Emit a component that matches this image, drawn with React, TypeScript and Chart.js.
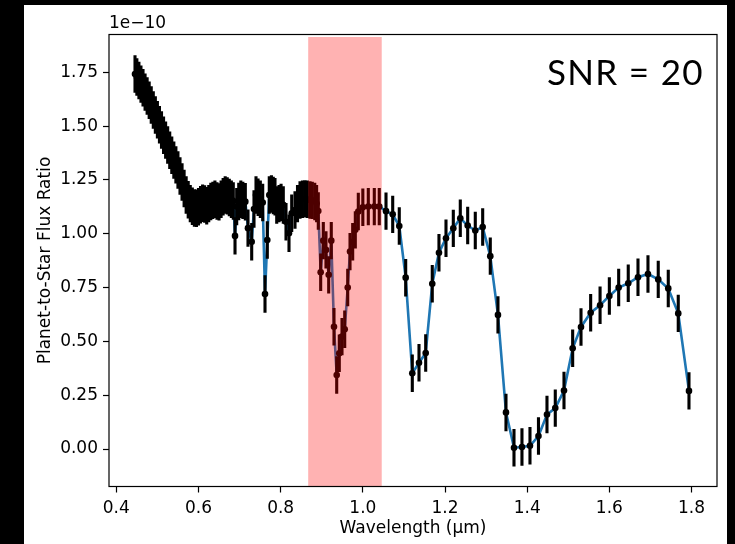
import React, { useEffect, useRef } from "react";
import { Chart, registerables } from "chart.js";

Chart.register(...registerables);

// Wavelength (µm) of each binned spectral point
const wavelength: number[] = [
  0.4455, 0.45, 0.455, 0.46, 0.465, 0.47, 0.475, 0.48, 0.485, 0.49, 0.495, 0.5, 0.505, 0.51,
  0.515, 0.52, 0.525, 0.53, 0.535, 0.54, 0.545, 0.55, 0.555, 0.56, 0.565, 0.57, 0.575,
  0.58, 0.585, 0.59, 0.595, 0.6, 0.605, 0.61, 0.615, 0.62, 0.625, 0.63, 0.635, 0.64, 0.645,
  0.65, 0.655, 0.66, 0.665, 0.67, 0.675, 0.68,
  0.6847, 0.6889, 0.693, 0.698, 0.703, 0.708, 0.714, 0.7205, 0.7295, 0.7351, 0.74, 0.745,
  0.7505, 0.7563, 0.7619, 0.7675, 0.7723, 0.7775, 0.782, 0.7862, 0.7904, 0.796, 0.801,
  0.8064, 0.813, 0.8203, 0.8269, 0.8349, 0.841, 0.8471, 0.853, 0.859, 0.865, 0.8714, 0.877,
  0.883, 0.8875, 0.8916, 0.8974, 0.9038, 0.9103, 0.9169, 0.9232, 0.9298, 0.9364, 0.9427,
  0.9493, 0.9559, 0.9632, 0.9688, 0.9753, 0.9817, 0.989,
  1.0, 1.0133, 1.0279, 1.04, 1.0564, 1.0727, 1.0887, 1.1043, 1.1204, 1.1367, 1.153, 1.169,
  1.1853, 1.2024, 1.2202, 1.2372, 1.2552, 1.2737, 1.2917, 1.3102, 1.3289, 1.3484, 1.3679,
  1.3873, 1.4068, 1.4275, 1.4482, 1.4684, 1.4896, 1.5107, 1.531, 1.5545, 1.5774, 1.6,
  1.6227, 1.646, 1.6697, 1.694, 1.719, 1.7434, 1.7677, 1.7938,
];

// Planet-to-star flux ratio, in units of 1e-10
const fluxRatio: number[] = [
  1.742, 1.728, 1.712, 1.695, 1.678, 1.658, 1.64, 1.62, 1.598, 1.575, 1.552, 1.53, 1.506, 1.482,
  1.458, 1.435, 1.412, 1.388, 1.365, 1.342, 1.32, 1.296, 1.268, 1.24, 1.21, 1.18, 1.158,
  1.14, 1.128, 1.12, 1.118, 1.125, 1.135, 1.142, 1.138, 1.13, 1.14, 1.15, 1.155, 1.16, 1.152,
  1.148, 1.16, 1.172, 1.18, 1.176, 1.168, 1.16,
  1.152, 0.99, 1.126, 1.15, 1.16, 1.155, 1.149, 1.026, 0.963, 1.115, 1.18, 1.17,
  1.16, 1.145, 0.72, 0.971, 1.18, 1.185, 1.178, 1.172, 1.134, 1.14, 1.145,
  1.134, 1.056, 1.002, 1.095, 1.11, 1.14, 1.157, 1.16, 1.162, 1.16, 1.157, 1.155,
  1.15, 1.14, 1.106, 0.821, 0.968, 0.925, 0.809, 0.968, 0.568, 0.344, 0.445,
  0.522, 0.556, 0.75, 0.917, 0.963, 1.018, 1.103,
  1.123, 1.126, 1.126, 1.126, 1.105, 1.09, 1.036, 0.796, 0.352, 0.401, 0.446, 0.768,
  0.912, 0.979, 1.025, 1.072, 1.038, 1.015, 1.031, 0.896, 0.623, 0.17, 0.006,
  0.009, 0.015, 0.06, 0.16, 0.19, 0.272, 0.468, 0.567, 0.633, 0.668, 0.711,
  0.75, 0.77, 0.798, 0.813, 0.788, 0.746, 0.63, 0.27,
];

// 1-sigma uncertainty (SNR = 20), same units
const fluxError = 0.087;

const xTickValues: number[] = [0.4, 0.6, 0.8, 1.0, 1.2, 1.4, 1.6, 1.8];
const yTickValues: number[] = [0, 0.25, 0.5, 0.75, 1.0, 1.25, 1.5, 1.75];

// highlighted band
const bandStart = 0.867;
const bandEnd = 1.046;
const bandTop = 1.914;

const xMin = 0.3822;
const xMax = 1.862;
const yMin = -0.1742;
const yMax = 1.9256;

const snrText = "SNR = 20";
const offsetText = "1e\u221210";

const W = 703;
const H = 539;
const FONT = "'DejaVu Sans', sans-serif";

export default function App() {
  const ref = useRef<HTMLCanvasElement>(null);

  useEffect(() => {
    const canvas = ref.current;
    if (!canvas) return;
    const points = wavelength.map((x, i) => ({ x, y: fluxRatio[i] }));

    const errorBars = {
      id: "errorBars",
      afterDatasetDraw(chart: any, args: any) {
        if (args.index !== 0) return;
        const { ctx, chartArea, scales } = chart;
        ctx.save();
        ctx.beginPath();
        ctx.rect(chartArea.left, chartArea.top, chartArea.right - chartArea.left, chartArea.bottom - chartArea.top);
        ctx.clip();
        ctx.strokeStyle = "#000";
        ctx.lineWidth = 3.1;
        ctx.lineCap = "butt";
        for (let i = 0; i < wavelength.length; i++) {
          const x = scales.x.getPixelForValue(wavelength[i]);
          const y1 = scales.y.getPixelForValue(fluxRatio[i] - fluxError);
          const y2 = scales.y.getPixelForValue(fluxRatio[i] + fluxError);
          ctx.beginPath();
          ctx.moveTo(x, y1);
          ctx.lineTo(x, y2);
          ctx.stroke();
        }
        ctx.restore();
      },
    };

    const overlay = {
      id: "overlay",
      afterDatasetsDraw(chart: any) {
        const { ctx, chartArea, scales } = chart;
        const { left, right, top, bottom } = chartArea;
        ctx.save();
        // shaded band
        const bx1 = scales.x.getPixelForValue(bandStart);
        const bx2 = scales.x.getPixelForValue(bandEnd);
        const by = scales.y.getPixelForValue(bandTop);
        ctx.fillStyle = "rgba(255,0,0,0.3)";
        ctx.fillRect(bx1, by, bx2 - bx1, bottom - by);
        // frame
        ctx.strokeStyle = "#000";
        ctx.lineWidth = 1.2;
        ctx.strokeRect(left, top, right - left, bottom - top);
        // offset text
        ctx.fillStyle = "#000";
        ctx.font = `17px ${FONT}`;
        ctx.textAlign = "left";
        ctx.textBaseline = "middle";
        ctx.fillText(offsetText, left, 18.5);
        // SNR label
        ctx.font = "35px Lato, 'Open Sans', sans-serif";
        ctx.textBaseline = "alphabetic";
        (ctx as any).letterSpacing = "1.3px";
        ctx.fillText(snrText, 523, 80);
        ctx.restore();
      },
    };

    const chart = new Chart(canvas, {
      type: "scatter",
      data: {
        datasets: [
          {
            data: points,
            showLine: true,
            borderColor: "#1f77b4",
            borderWidth: 2.6,
            pointRadius: 0,
            tension: 0,
            order: 2,
          } as any,
          {
            data: points,
            showLine: false,
            pointRadius: 3.3,
            pointBackgroundColor: "#000",
            pointBorderWidth: 0,
            order: 1,
          } as any,
        ],
      },
      options: {
        animation: false,
        responsive: false,
        devicePixelRatio: 1,
        layout: { padding: { top: 29.5, right: 10, bottom: 0, left: 0 } },
        plugins: {
          legend: { display: false },
          tooltip: { enabled: false },
        },
        scales: {
          x: {
            type: "linear",
            min: xMin,
            max: xMax,
            afterBuildTicks: (s: any) => {
              s.ticks = xTickValues.map((v) => ({ value: v }));
            },
            afterFit: (s: any) => {
              s.height = 57.5;
            },
            ticks: {
              color: "#000",
              font: { family: FONT, size: 17 },
              padding: 6,
              maxRotation: 0,
              autoSkip: false,
              callback: (v: any) => Number(v).toFixed(1),
            },
            grid: {
              drawOnChartArea: false,
              drawTicks: true,
              tickLength: 6,
              tickColor: "#000",
              tickWidth: 1.2,
            },
            border: { display: false },
            title: {
              display: true,
              text: "Wavelength (\u03bcm)",
              color: "#000",
              font: { family: FONT, size: 17 },
              padding: { top: 0, bottom: 5 },
            },
          },
          y: {
            type: "linear",
            min: yMin,
            max: yMax,
            afterBuildTicks: (s: any) => {
              s.ticks = yTickValues.map((v) => ({ value: v }));
            },
            afterFit: (s: any) => {
              s.width = 85;
            },
            ticks: {
              color: "#000",
              font: { family: FONT, size: 17 },
              padding: 5,
              autoSkip: false,
              callback: (v: any) => Number(v).toFixed(2),
            },
            grid: {
              drawOnChartArea: false,
              drawTicks: true,
              tickLength: 6,
              tickColor: "#000",
              tickWidth: 1.2,
            },
            border: { display: false },
            title: {
              display: true,
              text: "Planet-to-Star Flux Ratio",
              color: "#000",
              font: { family: FONT, size: 17 },
              padding: { top: 11.5, bottom: 0 },
            },
          },
        },
      },
      plugins: [errorBars, overlay],
    } as any);

    return () => chart.destroy();
  }, []);

  return (
    <div style={{ position: "fixed", left: 0, top: 0, width: 735, height: 544, background: "#000" }}>
      <canvas
        ref={ref}
        width={W}
        height={H}
        style={{ position: "absolute", left: 24, top: 5, width: W, height: H, background: "#fff" }}
      />
    </div>
  );
}
